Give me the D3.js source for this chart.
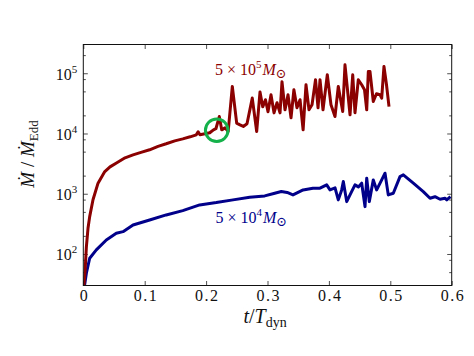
<!DOCTYPE html>
<html><head><meta charset="utf-8">
<script src="https://cdn.jsdelivr.net/npm/d3@7"></script>
<style>body{margin:0;background:#fff}svg{display:block}</style>
</head><body>
<svg id="c" width="474" height="356"></svg>
<script>
const xTicks = [0, 0.1, 0.2, 0.3, 0.4, 0.5, 0.6];
const xTickLabels = ["0", "0.1", "0.2", "0.3", "0.4", "0.5", "0.6"];
const yMajor = [1e2, 1e3, 1e4, 1e5];
const yMajorExp = ["2", "3", "4", "5"];
const yMinor = [50, 80, 200, 500, 800, 2000, 5000, 8000, 2e4, 5e4, 8e4, 2e5];

const redT = [0.001,0.003,0.005,0.0077,0.0104,0.0158,0.024,0.035,0.0435,0.054,0.068,0.081,0.094,0.108,0.1217,0.135,0.149,0.162,0.174,0.184,0.187,0.19,0.198,0.206,0.212,0.216,0.2215,0.2254,0.2308,0.236,0.2427,0.2498,0.2552,0.2606,0.2666,0.2752,0.2824,0.2878,0.2922,0.2967,0.3008,0.3057,0.3106,0.3155,0.3204,0.3236,0.3285,0.3334,0.3383,0.343,0.348,0.353,0.358,0.3627,0.3676,0.3725,0.3782,0.3823,0.3855,0.3904,0.3974,0.4034,0.4099,0.4153,0.4225,0.4262,0.4344,0.4388,0.4425,0.4479,0.4534,0.458,0.4616,0.4642,0.4669,0.4723,0.4775,0.4832,0.486,0.4897,0.4938,0.4979];
const redV = [30,54,131,270,417,794,1500,2330,2790,3230,3950,4420,4870,5360,6120,6750,7550,8150,8810,9500,10700,9500,9890,10300,11500,12000,19100,11500,12400,10800,60300,14900,13900,13100,14500,38700,10800,49000,27700,36300,22900,43900,22000,32400,22000,72200,24700,43900,18200,53200,26700,36300,11500,64400,24700,29900,78000,26700,78000,24700,94400,29900,19100,60300,23200,138000,20400,94400,22100,78000,64400,53200,24700,107000,107000,34000,45600,44000,38700,130000,64400,28000];

const blueT = [0.002,0.005,0.0104,0.0212,0.0375,0.0537,0.0647,0.081,0.108,0.135,0.162,0.1895,0.2166,0.2438,0.271,0.2954,0.3117,0.3225,0.332,0.3415,0.358,0.374,0.3855,0.3964,0.4018,0.41,0.4153,0.4208,0.4235,0.429,0.437,0.4425,0.448,0.4534,0.4588,0.4616,0.4658,0.4723,0.4778,0.486,0.4914,0.4967,0.5049,0.5158,0.5212,0.5375,0.5537,0.5647,0.5728,0.581,0.589,0.592,0.598];
const blueV = [30,48,85,117,171,221,235,303,367,445,525,653,713,791,877,921,1020,1087,1050,957,1158,1236,1236,1403,1158,1250,791,1158,1592,740,1087,1403,1300,1496,611,1812,740,1698,1158,1698,2193,957,1020,1928,2056,1496,1087,843,893,811,843,791,893];

const circleT = 0.2173, circleV = 1.13e4;

const serif = '"Liberation Serif","DejaVu Serif",serif';
const svg = d3.select('#c');
const L = 83.3, R = 451.7, T = 44.5, B = 285.5;
const x = d3.scaleLinear().domain([0, 0.6]).range([L, R]);
const y = d3.scaleLog().domain([30, 3e5]).range([B, T]);

svg.append('defs').append('clipPath').attr('id','clip')
  .append('rect').attr('x',L).attr('y',T).attr('width',R-L).attr('height',B-T);

const gBottom = svg.append('g').attr('transform',`translate(0,${B})`)
  .call(d3.axisBottom(x).tickValues(xTicks).tickSize(-4.5).tickPadding(4)
    .tickFormat((d,i)=>xTickLabels[i]));
svg.append('g').attr('transform',`translate(0,${T})`)
  .call(d3.axisTop(x).tickValues(xTicks).tickSize(-4.5).tickFormat(''));
svg.append('g').attr('transform',`translate(${L},0)`)
  .call(d3.axisLeft(y).tickValues(yMajor).tickSize(-4.5).tickFormat(''));
svg.append('g').attr('transform',`translate(${L},0)`)
  .call(d3.axisLeft(y).tickValues(yMinor).tickSize(-2.5).tickFormat(''));
svg.append('g').attr('transform',`translate(${R},0)`)
  .call(d3.axisRight(y).tickValues(yMajor).tickSize(-4.5).tickFormat(''));
svg.append('g').attr('transform',`translate(${R},0)`)
  .call(d3.axisRight(y).tickValues(yMinor).tickSize(-2.5).tickFormat(''));
svg.selectAll('.domain').remove();
svg.selectAll('.tick line').attr('stroke','#222').attr('stroke-width',0.8);
gBottom.selectAll('text').attr('font-family',serif).attr('font-size',16).attr('fill','#111')
  .attr('letter-spacing',1.5).attr('dx',0.75);

const yl = svg.append('g');
yMajor.forEach((v,i)=>{
  const t = yl.append('text').attr('x', L-6).attr('y', y(v)+6.5)
    .attr('text-anchor','end').attr('font-family',serif).attr('font-size',16).attr('fill','#111');
  t.append('tspan').text('10');
  t.append('tspan').attr('font-size',11).attr('dy',-7).text(yMajorExp[i]);
});

const line = d3.line().x(d=>x(d[0])).y(d=>y(d[1]));
const plot = svg.append('g').attr('clip-path','url(#clip)');
plot.append('path').datum(blueT.map((t,i)=>[t,blueV[i]]))
  .attr('d',line).attr('fill','none').attr('stroke','#00008b').attr('stroke-width',3).attr('stroke-linejoin','round');
plot.append('path').datum(redT.map((t,i)=>[t,redV[i]]))
  .attr('d',line).attr('fill','none').attr('stroke','#8b0000').attr('stroke-width',3).attr('stroke-linejoin','round');

svg.append('circle').attr('cx',x(circleT)).attr('cy',y(circleV)).attr('r',11.3)
  .attr('fill','none').attr('stroke','#14b14a').attr('stroke-width',3);

svg.append('rect').attr('x',L).attr('y',T).attr('width',R-L).attr('height',B-T)
  .attr('fill','none').attr('stroke','#111').attr('stroke-width',1);

function massLabel(xp, yp, exp, color){
  const t = svg.append('text').attr('x',xp).attr('y',yp).attr('font-family',serif)
    .attr('font-size',16).attr('fill',color);
  t.append('tspan').text('5');
  t.append('tspan').attr('dx',4).text('\u00d7');
  t.append('tspan').attr('dx',4).text('10');
  t.append('tspan').attr('font-size',11).attr('dy',-7).text(exp);
  t.append('tspan').attr('dy',7).attr('dx',1).attr('font-style','italic').text('M');
  t.append('tspan').attr('font-size',13).attr('dy',3).text('\u2299');
}
massLabel(215, 75, '5', '#8b0000');
massLabel(215.5, 223, '4', '#00008b');

const xt = svg.append('text').attr('x',265).attr('y',323).attr('text-anchor','middle')
  .attr('font-family',serif).attr('font-size',20).attr('fill','#111');
xt.append('tspan').attr('font-style','italic').text('t');
xt.append('tspan').text('/');
xt.append('tspan').attr('font-style','italic').text('T');
xt.append('tspan').attr('font-size',14).attr('dy',4).text('dyn');

const ytl = svg.append('text').attr('transform','translate(34,154) rotate(-90)').attr('text-anchor','middle')
  .attr('font-family',serif).attr('font-size',19).attr('fill','#111');
ytl.append('tspan').attr('font-style','italic').text('\u1E40');
ytl.append('tspan').text(' / ');
ytl.append('tspan').attr('font-style','italic').text('\u1E40');
ytl.append('tspan').attr('font-size',13).attr('dy',4).text('Edd');
</script>
</body></html>
